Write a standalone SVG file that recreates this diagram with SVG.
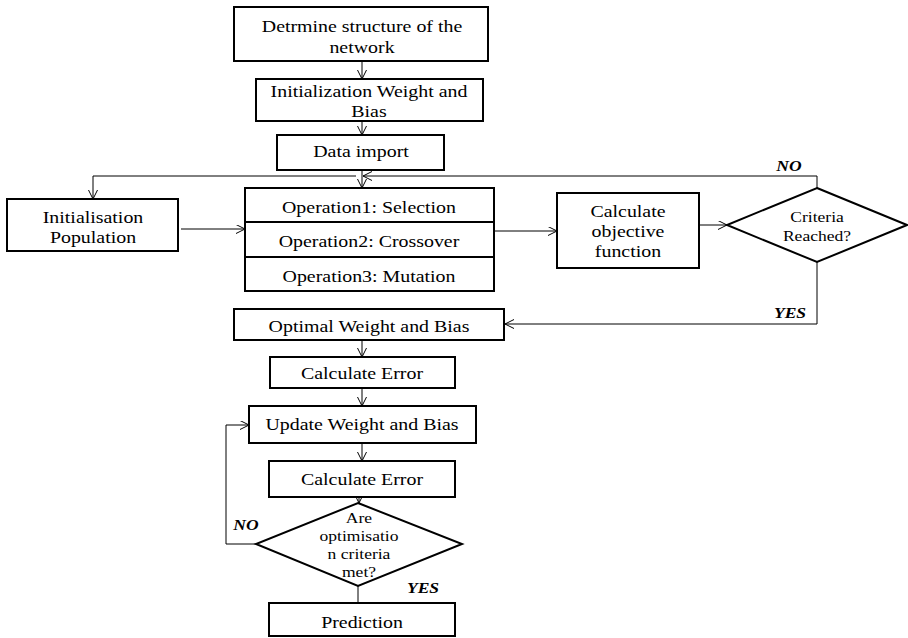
<svg xmlns="http://www.w3.org/2000/svg" width="908" height="638" viewBox="0 0 908 638">
<defs>
<marker id="ah" markerUnits="userSpaceOnUse" markerWidth="12" markerHeight="12" refX="9" refY="4.5" orient="auto">
<path d="M0,0 L9,4.5 L0,9" fill="none" stroke="#000" stroke-width="1"/>
</marker>
<style>
.b{fill:#fff;stroke:#000;stroke-width:2}
.c{fill:none;stroke:#000;stroke-width:1}
.a{marker-end:url(#ah)}
text{font-family:"Liberation Serif","Times New Roman",serif;font-size:17px;fill:#000;text-anchor:middle}
.s{font-size:15px}
.l{font-size:15px;font-weight:bold;font-style:italic}
</style>
</defs>
<rect width="908" height="638" fill="#fff"/>
<g id="connectors">
<path class="c a" d="M362,61 V79"/>
<path class="c a" d="M362,121 V135"/>
<path class="c a" d="M362,170 V188"/>
<path class="c a" d="M817,188 V176 H363"/>
<path class="c a" d="M356,176 H93 V199"/>
<path class="c a" d="M181,229 H245"/>
<path class="c a" d="M494,231 H557"/>
<path class="c a" d="M699,225 H727"/>
<path class="c a" d="M817,262 V324 H505"/>
<path class="c a" d="M362,340 V357"/>
<path class="c a" d="M362,388 V406"/>
<path class="c a" d="M362,443 V461"/>
<path class="c a" d="M359,497 V503"/>
<path class="c a" d="M256,544 H226 V425 H249"/>
<path class="c" d="M358,586 V603"/>
<text class="l" transform="translate(789 0) scale(1.17 1)" y="171">NO</text>
<text class="l" transform="translate(790 0) scale(1.17 1)" y="318">YES</text>
<text class="l" transform="translate(246 0) scale(1.17 1)" y="530">NO</text>
<text class="l" transform="translate(423 0) scale(1.17 1)" y="593">YES</text>
</g>
<g id="n1">
<rect class="b" x="234" y="7" width="254" height="54"/>
<text transform="translate(362 0) scale(1.17 1)"><tspan x="0" y="32">Detrmine structure of the</tspan><tspan x="0" y="53">network</tspan></text>
</g>
<g id="n2">
<rect class="b" x="256" y="79" width="227" height="42"/>
<text transform="translate(369 0) scale(1.17 1)"><tspan x="0" y="97">Initialization Weight and</tspan><tspan x="0" y="117">Bias</tspan></text>
</g>
<g id="n3">
<rect class="b" x="277" y="135" width="167" height="35"/>
<text transform="translate(361 0) scale(1.17 1)" y="157">Data import</text>
</g>
<g id="n4">
<rect class="b" x="7" y="199" width="171" height="52"/>
<text transform="translate(93 0) scale(1.17 1)"><tspan x="0" y="223">Initialisation</tspan><tspan x="0" y="243">Population</tspan></text>
</g>
<g id="n5">
<rect class="b" x="245" y="188" width="249" height="103"/>
<line class="b" x1="245" y1="222" x2="494" y2="222"/>
<line class="b" x1="245" y1="257" x2="494" y2="257"/>
<text transform="translate(369 0) scale(1.17 1)" y="213">Operation1: Selection</text>
<text transform="translate(369 0) scale(1.17 1)" y="247">Operation2: Crossover</text>
<text transform="translate(369 0) scale(1.17 1)" y="282">Operation3: Mutation</text>
</g>
<g id="n6">
<rect class="b" x="557" y="193" width="142" height="75"/>
<text transform="translate(628 0) scale(1.17 1)"><tspan x="0" y="217">Calculate</tspan><tspan x="0" y="237">objective</tspan><tspan x="0" y="257">function</tspan></text>
</g>
<g id="n7">
<polygon class="b" points="817,188 907,225 817,262 727,225"/>
<text class="s" transform="translate(817 0) scale(1.17 1)"><tspan x="0" y="222">Criteria</tspan><tspan x="0" y="241">Reached?</tspan></text>
</g>
<g id="n8">
<rect class="b" x="234" y="309" width="270" height="31"/>
<text transform="translate(369 0) scale(1.17 1)" y="332">Optimal Weight and Bias</text>
</g>
<g id="n9">
<rect class="b" x="270" y="357" width="185" height="31"/>
<text transform="translate(362 0) scale(1.17 1)" y="379">Calculate Error</text>
</g>
<g id="n10">
<rect class="b" x="249" y="406" width="227" height="37"/>
<text transform="translate(362 0) scale(1.17 1)" y="430">Update Weight and Bias</text>
</g>
<g id="n11">
<rect class="b" x="269" y="461" width="186" height="36"/>
<text transform="translate(362 0) scale(1.17 1)" y="485">Calculate Error</text>
</g>
<g id="n12">
<polygon class="b" points="358,503 462,544 358,586 256,544"/>
<text class="s" transform="translate(359 0) scale(1.17 1)"><tspan x="0" y="523">Are</tspan><tspan x="0" y="541">optimisatio</tspan><tspan x="0" y="559">n criteria</tspan><tspan x="0" y="577">met?</tspan></text>
</g>
<g id="n13">
<rect class="b" x="269" y="603" width="186" height="33"/>
<text transform="translate(362 0) scale(1.17 1)" y="628">Prediction</text>
</g>
</svg>
